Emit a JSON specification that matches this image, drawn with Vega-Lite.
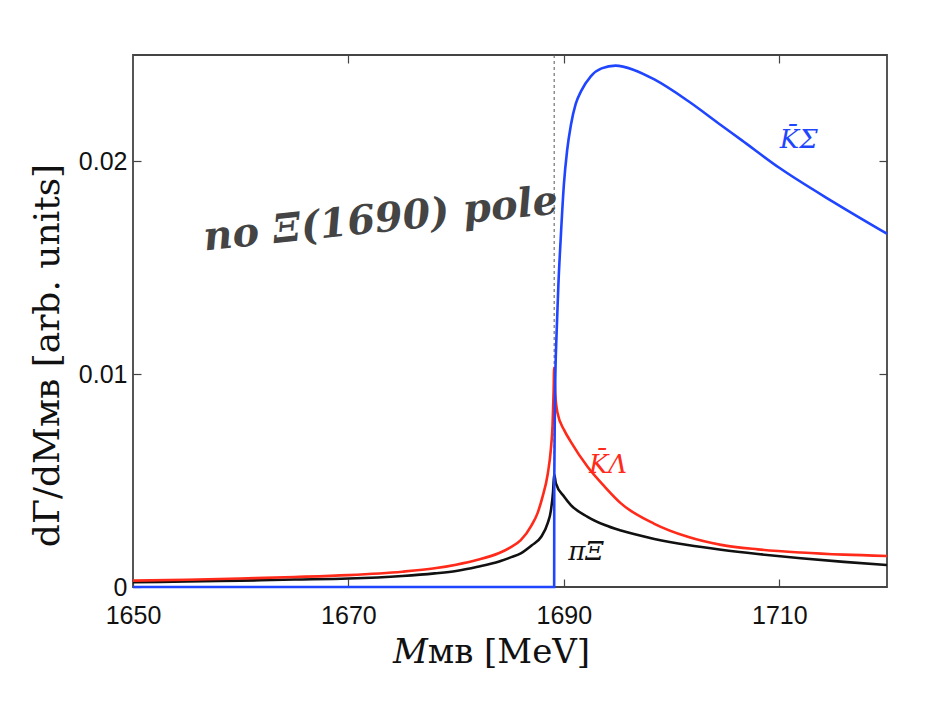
{
  "$schema": "https://vega.github.io/schema/vega-lite/v6.json",
  "width": 754,
  "height": 532,
  "autosize": {"type": "none"},
  "padding": {"left": 133, "top": 55, "right": 46, "bottom": 117},
  "background": "white",
  "config": {
    "view": {"stroke": "#444", "strokeWidth": 1.8},
    "axis": {"grid": false, "domain": false, "labelFont": "Liberation Sans", "labelFontSize": 25, "labelColor": "#111", "labelFlush": false, "tickColor": "#444", "tickSize": -8, "tickWidth": 1.2, "titleFont": "DejaVu Serif", "titleFontWeight": "normal", "titleColor": "#111"}
  },
  "datasets": {
    "black": [
      {"m": 1650, "v": 0.00022}, {"m": 1655, "v": 0.00026}, {"m": 1660, "v": 0.0003}, {"m": 1665, "v": 0.00035}, {"m": 1670, "v": 0.0004},
      {"m": 1675, "v": 0.00052}, {"m": 1678, "v": 0.00064}, {"m": 1680, "v": 0.00075}, {"m": 1682, "v": 0.00095}, {"m": 1684, "v": 0.0012},
      {"m": 1685, "v": 0.00138}, {"m": 1686, "v": 0.00158}, {"m": 1687, "v": 0.00195}, {"m": 1687.9, "v": 0.00236}, {"m": 1688.5, "v": 0.003},
      {"m": 1688.8, "v": 0.0036}, {"m": 1689.0, "v": 0.0045}, {"m": 1689.1, "v": 0.0053}, {"m": 1689.26, "v": 0.00487}, {"m": 1690.03, "v": 0.00424},
      {"m": 1690.65, "v": 0.00385}, {"m": 1692.2, "v": 0.0033}, {"m": 1693.8, "v": 0.00291}, {"m": 1695.3, "v": 0.00265}, {"m": 1698.4, "v": 0.00226},
      {"m": 1701.5, "v": 0.00197}, {"m": 1704.6, "v": 0.00175}, {"m": 1708, "v": 0.00155}, {"m": 1712, "v": 0.00135}, {"m": 1716, "v": 0.00118}, {"m": 1720, "v": 0.00103}
    ],
    "red": [
      {"m": 1650, "v": 0.0003}, {"m": 1655, "v": 0.00034}, {"m": 1660, "v": 0.0004}, {"m": 1665, "v": 0.00047}, {"m": 1670, "v": 0.00056},
      {"m": 1675, "v": 0.00072}, {"m": 1678, "v": 0.00088}, {"m": 1680, "v": 0.00105}, {"m": 1682, "v": 0.00128}, {"m": 1684, "v": 0.0016},
      {"m": 1685, "v": 0.00185}, {"m": 1686, "v": 0.0022}, {"m": 1687, "v": 0.0029}, {"m": 1687.55, "v": 0.00346}, {"m": 1688, "v": 0.0042},
      {"m": 1688.5, "v": 0.0053}, {"m": 1688.8, "v": 0.0065}, {"m": 1688.95, "v": 0.0076}, {"m": 1689.05, "v": 0.0092}, {"m": 1689.1, "v": 0.0103},
      {"m": 1689.2, "v": 0.0091}, {"m": 1689.42, "v": 0.00816}, {"m": 1690.03, "v": 0.00737}, {"m": 1690.65, "v": 0.00682}, {"m": 1692.2, "v": 0.00565},
      {"m": 1693.8, "v": 0.00471}, {"m": 1695.3, "v": 0.00393}, {"m": 1698.4, "v": 0.00297}, {"m": 1701.5, "v": 0.00236}, {"m": 1704.6, "v": 0.00198},
      {"m": 1708, "v": 0.00177}, {"m": 1712, "v": 0.00162}, {"m": 1716, "v": 0.00152}, {"m": 1720, "v": 0.00146}
    ],
    "blue": [
      {"m": 1650, "v": 0}, {"m": 1689.1, "v": 0}, {"m": 1689.11, "v": 0.005}, {"m": 1689.18, "v": 0.009}, {"m": 1689.33, "v": 0.012},
      {"m": 1689.5, "v": 0.0143}, {"m": 1689.7, "v": 0.0163}, {"m": 1690.0, "v": 0.0189}, {"m": 1690.3, "v": 0.0205}, {"m": 1690.65, "v": 0.0217}, {"m": 1691.1, "v": 0.0227}, {"m": 1691.6, "v": 0.0233},
      {"m": 1692.5, "v": 0.024}, {"m": 1693.5, "v": 0.02437}, {"m": 1694.8, "v": 0.0245}, {"m": 1696.5, "v": 0.0243}, {"m": 1698.4, "v": 0.02385},
      {"m": 1701.5, "v": 0.02285}, {"m": 1704.6, "v": 0.0217}, {"m": 1706.5, "v": 0.0210}, {"m": 1710, "v": 0.0197}, {"m": 1715, "v": 0.0181}, {"m": 1720, "v": 0.0166}
    ],
    "labels": [
      {"m": 1711.8, "v": 0.02099, "t": "K̄Σ", "c": "blue"},
      {"m": 1694.1, "v": 0.00573, "t": "K̄Λ", "c": "red"},
      {"m": 1692.05, "v": 0.00164, "t": "πΞ", "c": "black"}
    ],
    "note": [{"m": 1673.0, "v": 0.01725, "t": "no Ξ(1690) pole"}]
  },
  "resolve": {"axis": {"x": "independent", "y": "independent"}},
  "layer": [
    {
      "data": {"values": [{"m": 1689.1}]},
      "mark": {"type": "rule", "color": "#555", "strokeWidth": 1, "strokeDash": [3, 3]},
      "encoding": {
        "x": {"field": "m", "type": "quantitative", "scale": {"domain": [1650, 1720], "nice": false},
          "axis": {"orient": "bottom", "values": [1650, 1670, 1690, 1710], "format": "d", "labelPadding": 24, "title": "𝑀ᴍʙ [MeV]", "titleFontSize": 34, "titlePadding": 7, "titleX": 358}}
      }
    },
    {
      "data": {"name": "black"},
      "mark": {"type": "line", "color": "#111", "strokeWidth": 2.6, "interpolate": "monotone"},
      "encoding": {
        "x": {"field": "m", "type": "quantitative", "scale": {"domain": [1650, 1720], "nice": false},
          "axis": {"orient": "top", "values": [1670, 1690, 1710], "labels": false, "title": null}},
        "y": {"field": "v", "type": "quantitative", "scale": {"domain": [0, 0.025], "nice": false},
          "axis": {"orient": "left", "values": [0, 0.01, 0.02], "format": "~g", "labelPadding": 14, "title": "dΓ/dMᴍʙ [arb. units]", "titleFontSize": 36, "titlePadding": 12, "titleY": 300}}
      }
    },
    {
      "data": {"name": "red"},
      "mark": {"type": "line", "color": "#ff2a1a", "strokeWidth": 2.6, "interpolate": "monotone"},
      "encoding": {
        "x": {"field": "m", "type": "quantitative", "scale": {"domain": [1650, 1720], "nice": false}, "axis": null},
        "y": {"field": "v", "type": "quantitative", "scale": {"domain": [0, 0.025], "nice": false},
          "axis": {"orient": "right", "values": [0.01, 0.02], "labels": false, "title": null}}
      }
    },
    {
      "data": {"name": "blue"},
      "mark": {"type": "line", "color": "#1f45ff", "strokeWidth": 2.6, "interpolate": "monotone"},
      "encoding": {
        "x": {"field": "m", "type": "quantitative", "scale": {"domain": [1650, 1720], "nice": false}, "axis": null},
        "y": {"field": "v", "type": "quantitative", "scale": {"domain": [0, 0.025], "nice": false}, "axis": null}
      }
    },
    {
      "data": {"name": "labels"},
      "mark": {"type": "text", "font": "DejaVu Serif", "fontSize": 26, "fontStyle": "italic"},
      "encoding": {
        "x": {"field": "m", "type": "quantitative", "scale": {"domain": [1650, 1720], "nice": false}, "axis": null},
        "y": {"field": "v", "type": "quantitative", "scale": {"domain": [0, 0.025], "nice": false}, "axis": null},
        "text": {"field": "t"},
        "color": {"field": "c", "type": "nominal", "scale": {"domain": ["blue", "red", "black"], "range": ["#1f45ff", "#ff2a1a", "#111"]}, "legend": null}
      }
    },
    {
      "data": {"name": "note"},
      "mark": {"type": "text", "font": "DejaVu Serif", "fontSize": 40, "fontWeight": "bold", "fontStyle": "italic", "color": "#444", "angle": 354},
      "encoding": {
        "x": {"field": "m", "type": "quantitative", "scale": {"domain": [1650, 1720], "nice": false}, "axis": null},
        "y": {"field": "v", "type": "quantitative", "scale": {"domain": [0, 0.025], "nice": false}, "axis": null},
        "text": {"field": "t"}
      }
    }
  ]
}
